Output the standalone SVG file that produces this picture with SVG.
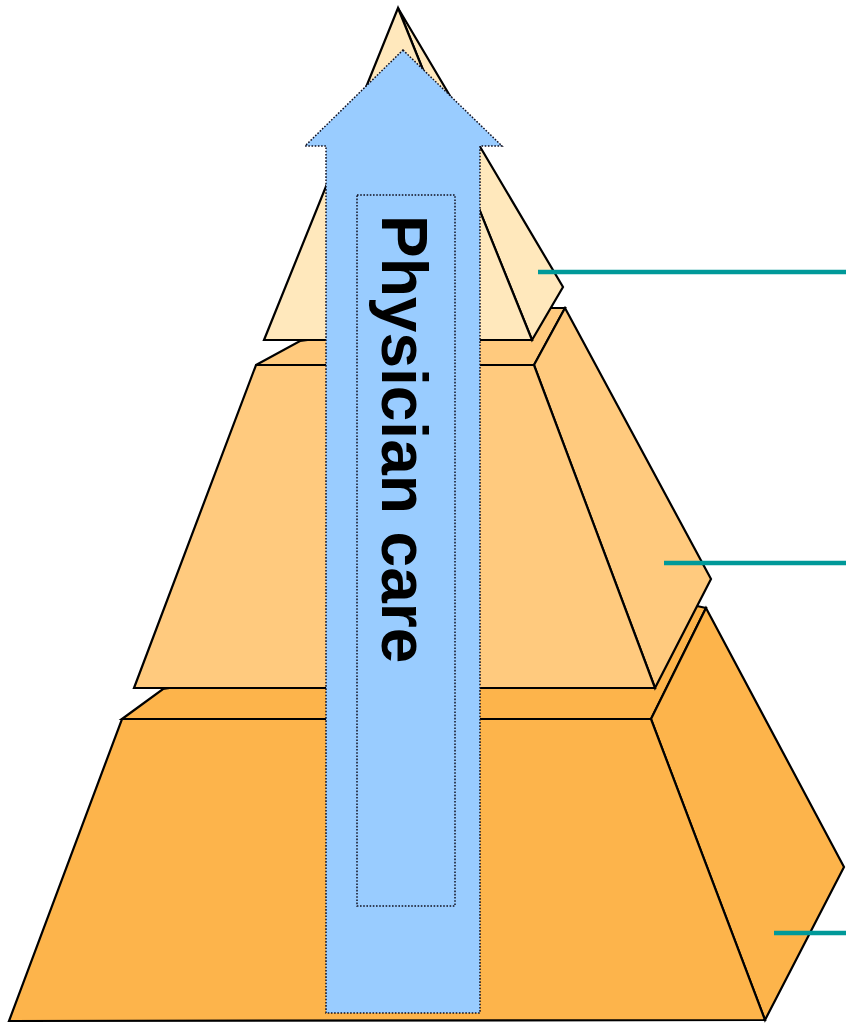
<svg xmlns="http://www.w3.org/2000/svg" width="846" height="1023" viewBox="0 0 846 1023">
  <style>
    .edge { stroke: #000000; stroke-width: 2.2; stroke-linejoin: miter; }
    .t1 { fill: #FFE8BC; }
    .t2 { fill: #FFCA7E; }
    .t3 { fill: #FDB44B; }
    .dotted { stroke: #111122; stroke-width: 1.5; stroke-dasharray: 1.6 1.6; }
    .leader { stroke: #009999; stroke-width: 4.5; fill: none; }
    .label { font-family: "Liberation Sans", Arial, sans-serif; font-weight: bold; font-size: 64px; fill: #000000; }
  </style>
  <rect width="846" height="1023" fill="#FFFFFF"/>
  <g id="tier-bottom">
    <polygon class="edge t3" points="122,719 163,689 697,606 706,608 651,719"/>
    <polygon class="edge t3" points="706,608 844,867 765,1020 651,719"/>
    <polygon class="edge t3" points="122,719 651,719 765,1020 9,1021"/>
  </g>
  <g id="tier-middle">
    <polygon class="edge t2" points="256,365 300,341 550,308 565,308 534,365"/>
    <polygon class="edge t2" points="565,308 711,579 655,688 534,365"/>
    <polygon class="edge t2" points="256,365 534,365 655,688 134,688"/>
  </g>
  <g id="tier-top">
    <polygon class="edge t1" points="398,8 563,287 532,340"/>
    <polygon class="edge t1" points="398,8 532,340 264,340"/>
  </g>
  <g id="physician-care-arrow">
    <polygon class="dotted" fill="#99CCFF" points="403,50 502,146 480,146 480,1013 326,1013 326,146 305,146"/>
    <rect class="dotted" fill="none" x="357" y="195" width="98" height="711"/>
    <text class="label" transform="translate(382,215) rotate(90)" x="0" y="0">Physician care</text>
  </g>
  <g id="connectors">
    <line class="leader" x1="538" y1="272" x2="846" y2="272"/>
    <line class="leader" x1="664" y1="563" x2="846" y2="563"/>
    <line class="leader" x1="774" y1="933" x2="846" y2="933"/>
  </g>
</svg>
